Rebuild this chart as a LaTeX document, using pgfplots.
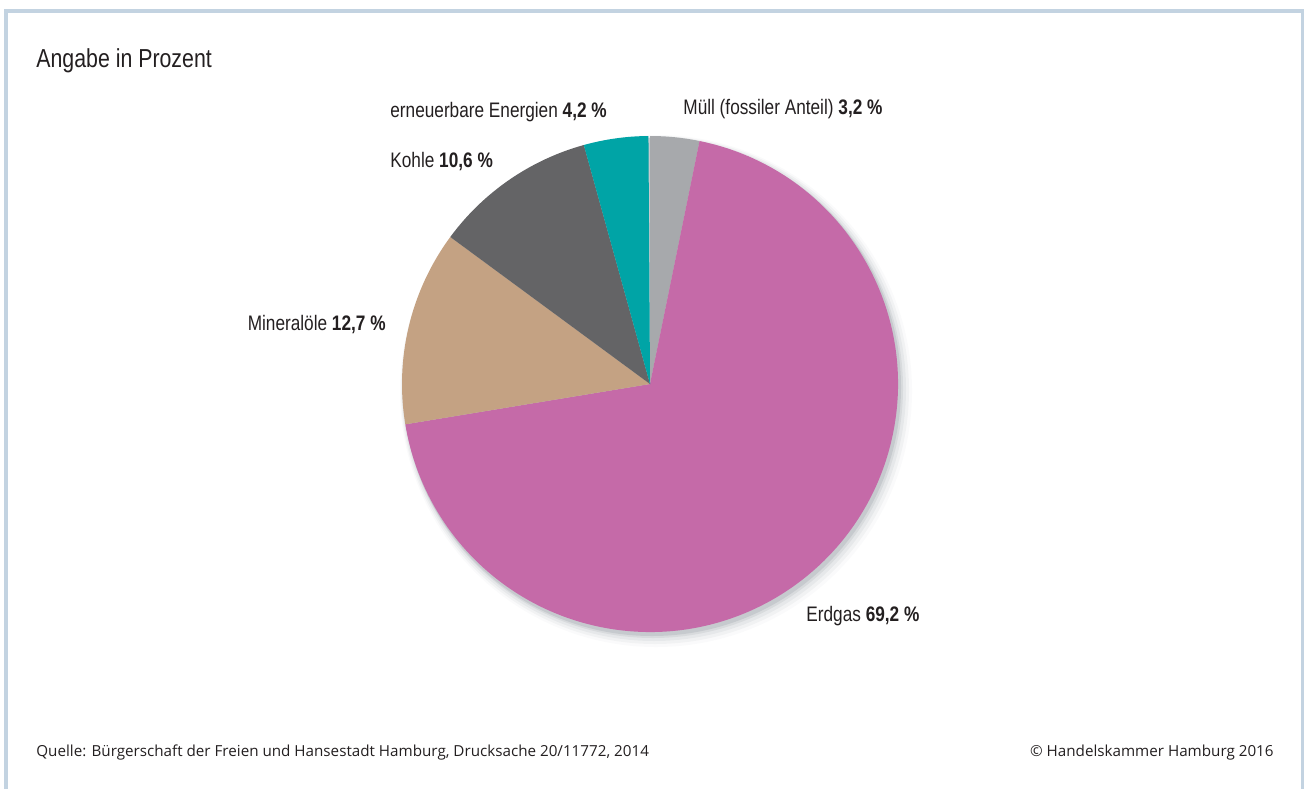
\documentclass[border=0pt]{standalone}
\usepackage{fontspec}
\usepackage{pgfplots}
\pgfplotsset{compat=1.18}
\usepackage{pgfplotstable}
\setmainfont{Liberation Sans}[FakeStretch=0.82]
\newfontfamily\footfont{Open Sans}
\definecolor{frame}{HTML}{C3D3E1}
\definecolor{txt}{HTML}{231F20}
\definecolor{shadow}{HTML}{5A6470}
\definecolor{muell}{HTML}{A7A9AC}
\definecolor{erdgas}{HTML}{C56AA8}
\definecolor{mineral}{HTML}{C4A283}
\definecolor{kohle}{HTML}{646466}
\definecolor{erneuer}{HTML}{00A4A6}
\pgfplotstableread{
value color
3.2 muell
69.2 erdgas
12.7 mineral
10.6 kohle
4.2 erneuer
}\piedata
\begin{document}
\begin{tikzpicture}
\begin{axis}[
  scale only axis, x=0.5pt, y=0.5pt,
  xmin=0, xmax=1304, ymin=0, ymax=789,
  hide axis, clip=false,
]
\path[use as bounding box] (axis cs:0,0) rectangle (axis cs:1304,789);
% frame
\draw[frame, line width=2pt] (axis cs:6,0) -- (axis cs:6,778) -- (axis cs:1302.5,778) -- (axis cs:1302.5,0);
% shadow
\fill[shadow, opacity=0.03] (axis cs:656,398) circle[radius=128pt];
\fill[shadow, opacity=0.05] (axis cs:655,399) circle[radius=127pt];
\fill[shadow, opacity=0.07] (axis cs:654,400) circle[radius=126pt];
\fill[shadow, opacity=0.10] (axis cs:653,401) circle[radius=125pt];
\fill[shadow, opacity=0.14] (axis cs:652,402) circle[radius=124.5pt];
% wedges
\xdef\cum{0}
\pgfplotsinvokeforeach{0,...,4}{%
  \pgfplotstablegetelem{#1}{value}\of\piedata
  \let\val\pgfplotsretval
  \pgfmathsetmacro\a{90-3.6*\cum}
  \pgfmathsetmacro\tmp{\cum+\val}\xdef\cum{\tmp}
  \pgfmathsetmacro\b{90-3.6*\cum}
  \pgfplotstablegetelem{#1}{color}\of\piedata
  \let\col\pgfplotsretval
  \pgfmathsetmacro\px{650+248*cos(\a)}
  \pgfmathsetmacro\py{405+248*sin(\a)}
  \edef\temp{\noexpand\fill[\col] (axis cs:650,405) -- (axis cs:\px,\py) arc[start angle=\a, end angle=\b, radius=124pt] -- cycle;}
  \temp
}
% texts
\node[anchor=base west, inner sep=0pt, font=\fontsize{13}{15}\selectfont, text=txt] at (axis cs:36,721) {Angabe in Prozent};
\node[anchor=base west, inner sep=0pt, font=\fontsize{10.5}{12}\selectfont, text=txt] at (axis cs:390,671) {erneuerbare Energien \textbf{4,2 \%}};
\node[anchor=base west, inner sep=0pt, font=\fontsize{10.5}{12}\selectfont, text=txt] at (axis cs:683,675) {Müll (fossiler Anteil) \textbf{3,2 \%}};
\node[anchor=base west, inner sep=0pt, font=\fontsize{10.5}{12}\selectfont, text=txt] at (axis cs:390,622) {Kohle \textbf{10,6 \%}};
\node[anchor=base east, inner sep=0pt, font=\fontsize{10.5}{12}\selectfont, text=txt] at (axis cs:386,459) {Mineralöle \textbf{12,7 \%}};
\node[anchor=base west, inner sep=0pt, font=\fontsize{10.5}{12}\selectfont, text=txt] at (axis cs:806,168) {Erdgas \textbf{69,2 \%}};
\node[anchor=base west, inner sep=0pt, font=\footfont\fontsize{7.6}{9}\selectfont, text=txt] at (axis cs:36,33) {Quelle: Bürgerschaft der Freien und Hansestadt Hamburg, Drucksache 20/11772, 2014};
\node[anchor=base east, inner sep=0pt, font=\footfont\fontsize{7.6}{9}\selectfont, text=txt] at (axis cs:1274,33) {© Handelskammer Hamburg 2016};
\end{axis}
\end{tikzpicture}
\end{document}
